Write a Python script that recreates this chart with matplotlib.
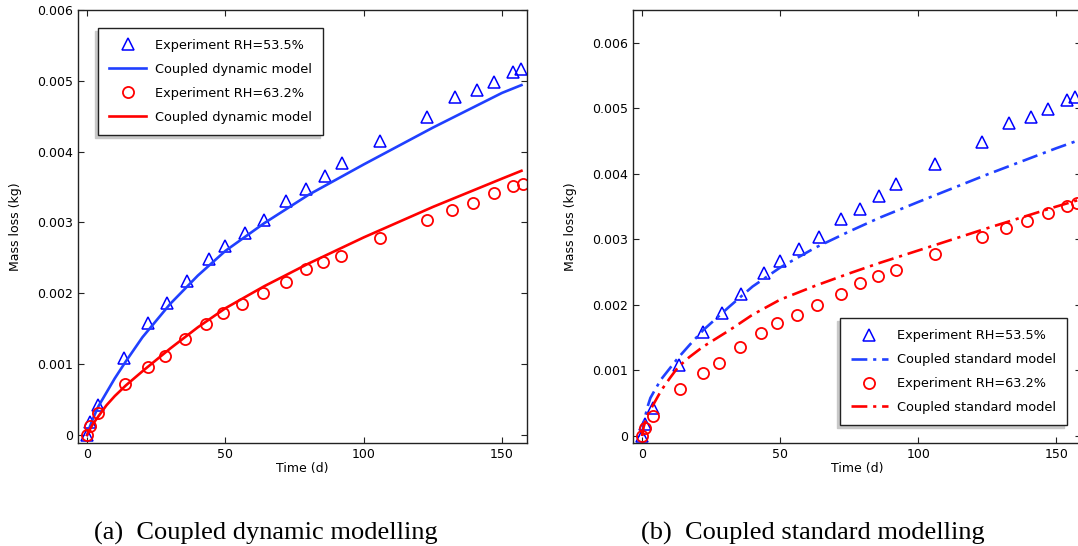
# ---------------------------
# Mass loss vs time: dynamic vs standard coupled model
# ---------------------------
import matplotlib
matplotlib.use("Agg")
import matplotlib.pyplot as plt

# ---------------------------
# Data
# ---------------------------
t_exp = [0, 1, 4, 13.4, 22, 29, 36, 44, 50, 57, 64, 72, 79, 86, 92, 106,
         123, 133, 141, 147, 154, 157]
exp_535 = [0.0, 0.00018, 0.00043, 0.00108, 0.00158, 0.00187, 0.00217, 0.00248,
           0.00267, 0.00285, 0.00304, 0.00331, 0.00347, 0.00366, 0.00384, 0.00415,
           0.00449, 0.00477, 0.00487, 0.00499, 0.00512, 0.00517]
t_exp2 = [0, 1, 4, 13.6, 22, 28, 35.5, 43, 49, 56, 63.5, 72, 79, 85.4, 91.8, 106,
          123, 132, 139.5, 147, 154, 157.4]
exp_632 = [0.0, 0.00012, 0.00031, 0.00072, 0.00096, 0.00112, 0.00136, 0.00157,
           0.00172, 0.00185, 0.00200, 0.00216, 0.00234, 0.00244, 0.00253, 0.00278,
           0.00304, 0.00317, 0.00328, 0.00341, 0.00351, 0.00355]

t_dyn = [0, 1, 2, 4, 7, 10, 14, 20, 30, 40, 50, 64, 80, 100, 125, 150, 157]
dyn_535 = [0.0, 0.00012, 0.00022, 0.00040, 0.00060, 0.00080, 0.00104, 0.00138,
           0.00185, 0.00225, 0.00260, 0.00299, 0.00339, 0.00382, 0.00434, 0.00483,
           0.00494]
dyn_632 = [0.0, 0.00008, 0.00015, 0.00026, 0.00042, 0.00055, 0.00070, 0.00090,
           0.00122, 0.00152, 0.00179, 0.00210, 0.00242, 0.00279, 0.00322, 0.00362,
           0.00373]

t_std = [0, 0.5, 1, 2, 3, 5, 7, 10, 13, 17, 22, 31.5, 40, 50, 62.6, 75, 86,
         100, 125, 150, 158]
std_535 = [0.0, 0.00018, 0.00028, 0.00045, 0.00058, 0.00073, 0.00087, 0.00103,
           0.00119, 0.00138, 0.00161, 0.00197, 0.00228, 0.00257, 0.00287, 0.00312,
           0.00333, 0.00357, 0.00399, 0.00439, 0.00451]
std_632 = [0.0, 0.00013, 0.00020, 0.00032, 0.00040, 0.00055, 0.00070, 0.00088,
           0.00105, 0.00120, 0.00136, 0.00161, 0.00185, 0.00208, 0.00229, 0.00248,
           0.00264, 0.00283, 0.00317, 0.00350, 0.00360]

xticks = [0, 50, 100, 150]
yticks_a = [0, 0.001, 0.002, 0.003, 0.004, 0.005, 0.006]
yticks_b = [0, 0.001, 0.002, 0.003, 0.004, 0.005, 0.006]
ytick_labels = ["0", "0.001", "0.002", "0.003", "0.004", "0.005", "0.006"]

# ---------------------------
# Style
# ---------------------------
plt.rcParams["font.family"] = ["DejaVu Sans"]
BLUE_M = "#0000ff"
BLUE_L = "#2040ff"
RED = "#ff0000"
DASHDOT = (0, (6, 2.2, 1.2, 2.2))


def style_axes(ax, yticks):
    ax.set_xticks(xticks)
    ax.set_yticks(yticks)
    ax.set_yticklabels(ytick_labels)
    ax.tick_params(direction="in", length=4.5, width=0.8, labelsize=9,
                   top=True, right=True, pad=3.5, color="#222222")
    for s in ax.spines.values():
        s.set_linewidth(1.0)
        s.set_color("#222222")
    ax.set_xlabel("Time (d)", fontsize=9, labelpad=1)
    ax.set_ylabel("Mass loss (kg)", fontsize=9, labelpad=11)


def add_legend(ax, loc, anchor):
    ax.legend(loc=loc, bbox_to_anchor=anchor, borderaxespad=0, fontsize=9.3,
              handlelength=2.85, handletextpad=0.7, labelspacing=0.85,
              borderpad=0.85, fancybox=False, framealpha=1,
              edgecolor="#222222",
              shadow={"ox": -2.2, "oy": -2.2, "color": "#c8c8c8", "alpha": 1})
    ax.get_legend().get_frame().set_linewidth(1.0)


fig = plt.figure(figsize=(10.78, 5.46), dpi=100)

# ---------------------------
# (a) dynamic model
# ---------------------------
ax1 = fig.add_axes([78 / 1078, 103 / 546, 449 / 1078, 433 / 546])
ax1.plot(t_exp, exp_535, linestyle="none", marker="^", ms=8, mfc="none",
         mec=BLUE_M, mew=1.1, label="Experiment RH=53.5%")
ax1.plot(t_dyn, dyn_535, color=BLUE_L, lw=1.9, label="Coupled dynamic model")
ax1.plot(t_exp2, exp_632, linestyle="none", marker="o", ms=8, mfc="none",
         mec=RED, mew=1.3, label="Experiment RH=63.2%")
ax1.plot(t_dyn, dyn_632, color=RED, lw=1.9, label="Coupled dynamic model")
ax1.set_xlim(-3.3, 159)
ax1.set_ylim(-0.000113, 0.006)
style_axes(ax1, yticks_a)
add_legend(ax1, "upper left", (0.045, 0.9584))

# ---------------------------
# (b) standard model
# ---------------------------
ax2 = fig.add_axes([633 / 1078, 103 / 546, 448 / 1078, 433 / 546])
ax2.plot(t_exp, exp_535, linestyle="none", marker="^", ms=8, mfc="none",
         mec=BLUE_M, mew=1.1, label="Experiment RH=53.5%")
ax2.plot(t_std, std_535, color=BLUE_L, lw=1.9, linestyle=DASHDOT,
         label="Coupled standard model")
ax2.plot(t_exp2, exp_632, linestyle="none", marker="o", ms=8, mfc="none",
         mec=RED, mew=1.3, label="Experiment RH=63.2%")
ax2.plot(t_std, std_632, color=RED, lw=1.9, linestyle=DASHDOT,
         label="Coupled standard model")
ax2.set_xlim(-3.3, 159.0)
ax2.set_ylim(-0.000107, 0.0065)
style_axes(ax2, yticks_b)
add_legend(ax2, "lower right", (0.968, 0.0416))

# ---------------------------
# Sub captions
# ---------------------------
fig.text(266 / 1078, 6 / 546, "(a)  Coupled dynamic modelling",
         family="Liberation Serif", fontsize=19, ha="center", va="baseline")
fig.text(813 / 1078, 6 / 546, "(b)  Coupled standard modelling",
         family="Liberation Serif", fontsize=19, ha="center", va="baseline")

fig.savefig("out.png", dpi=100)
